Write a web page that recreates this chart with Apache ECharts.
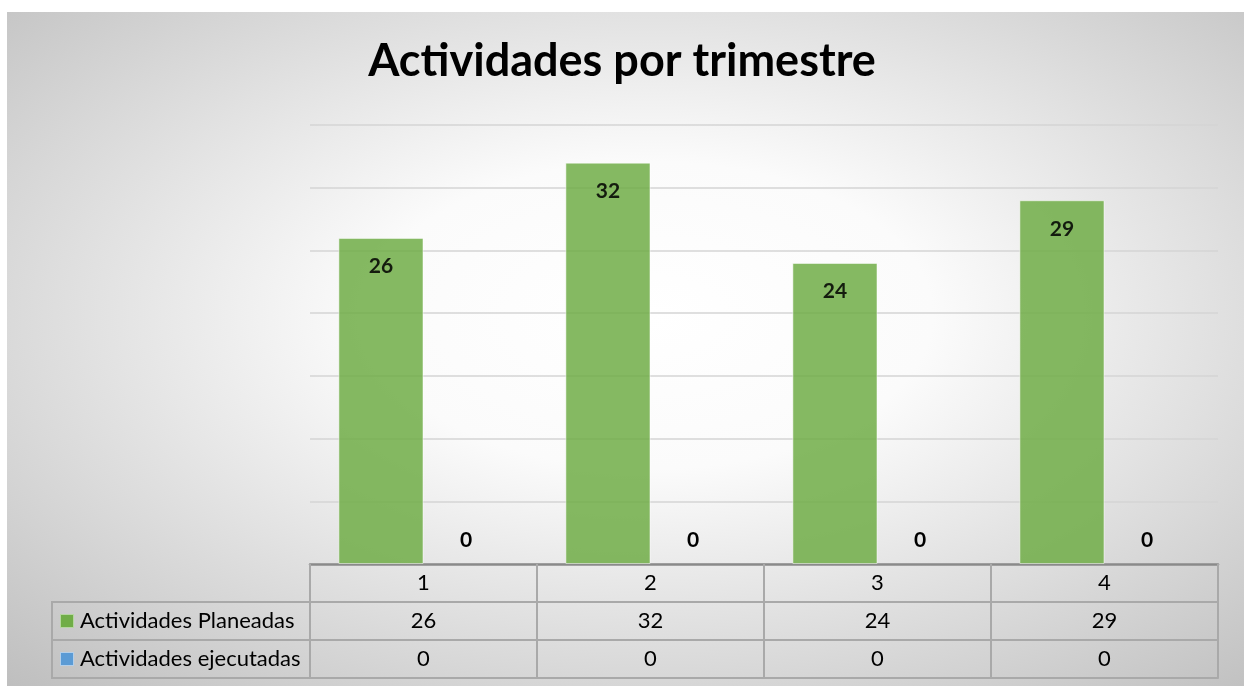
<!DOCTYPE html>
<html>
<head>
<meta charset="utf-8">
<script src="https://cdn.jsdelivr.net/npm/echarts@6/dist/echarts.min.js"></script>
<style>
  html, body { margin: 0; padding: 0; background: #fff; }
  #main { width: 1244px; height: 686px; }
</style>
</head>
<body>
<div id="main"></div>
<script>
var categories = ['1', '2', '3', '4'];
var seriesNames = ['Actividades Planeadas', 'Actividades ejecutadas'];
var planeadas = [26, 32, 24, 29];
var ejecutadas = [0, 0, 0, 0];
var colors = ['#70AD47', '#5B9BD5'];

var font = 'Lato, "Noto Sans", sans-serif';
var tableLine = { color: '#a9a9a9', width: 2 };
var cellText = { fontSize: 22, color: '#000', fontFamily: font };

var chart = echarts.init(document.getElementById('main'), null, { renderer: 'canvas' });

var option = {
  backgroundColor: '#fff',
  textStyle: { fontFamily: font },
  graphic: [{
    type: 'rect',
    z: -10,
    silent: true,
    x: 7, y: 12,
    scaleX: 1237 / 674,
    shape: { x: 0, y: 0, width: 674, height: 674 },
    style: {
      fill: {
        type: 'radial', x: 0.52, y: 0.45, r: 0.76,
        colorStops: [
          { offset: 0, color: '#ffffff' },
          { offset: 0.3, color: '#fbfbfb' },
          { offset: 1, color: '#bebebe' }
        ]
      }
    }
  }],
  title: {
    text: 'Actividades por trimestre',
    left: 'center',
    top: 34,
    textStyle: { fontFamily: font, fontSize: 45, fontWeight: 'bold', color: '#000' }
  },
  grid: [
    { left: 310, width: 908, top: 125, height: 439 },
    { left: 52, width: 258, top: 602, height: 76, show: true, borderColor: '#a9a9a9', borderWidth: 2 }
  ],
  xAxis: [
    {
      gridIndex: 0, type: 'category', data: categories, position: 'bottom',
      axisLine: { lineStyle: { color: '#8a8a8a', width: 2.5 } },
      axisTick: { show: true, interval: 0, length: 114, lineStyle: tableLine },
      axisLabel: Object.assign({ margin: 8 }, cellText)
    },
    {
      gridIndex: 0, type: 'category', data: categories, position: 'bottom', offset: 38,
      axisLine: { lineStyle: tableLine },
      axisTick: { show: false },
      axisLabel: Object.assign({ margin: 8,
        formatter: function (v, i) { return String(planeadas[i]); } }, cellText)
    },
    {
      gridIndex: 0, type: 'category', data: categories, position: 'bottom', offset: 76,
      axisLine: { lineStyle: tableLine },
      axisTick: { show: false },
      axisLabel: Object.assign({ margin: 8,
        formatter: function (v, i) { return String(ejecutadas[i]); } }, cellText)
    },
    {
      gridIndex: 0, type: 'category', data: categories, position: 'bottom', offset: 114,
      axisLine: { lineStyle: tableLine },
      axisTick: { show: false },
      axisLabel: { show: false }
    },
    { gridIndex: 1, type: 'value', show: false }
  ],
  yAxis: [
    {
      gridIndex: 0, type: 'value', min: 0, max: 35, interval: 5,
      axisLine: { show: false }, axisTick: { show: false }, axisLabel: { show: false },
      splitLine: { lineStyle: { color: '#d4d4d4', width: 1.5 } }
    },
    {
      gridIndex: 1, type: 'category', data: seriesNames, inverse: true,
      axisLine: { show: false }, axisTick: { show: false },
      splitLine: { show: true, lineStyle: tableLine },
      axisLabel: Object.assign({
        inside: true, margin: 9,
        formatter: function (v, i) { return '{m' + i + '|}{g|}' + v; },
        rich: {
          m0: { width: 12, height: 12, backgroundColor: colors[0], borderColor: '#b5d6a0', borderWidth: 1 },
          m1: { width: 12, height: 12, backgroundColor: colors[1], borderColor: '#b4cfe9', borderWidth: 1 },
          g: { width: 7 }
        }
      }, cellText)
    }
  ],
  series: [
    {
      name: seriesNames[0], type: 'bar', xAxisIndex: 0, yAxisIndex: 0,
      data: planeadas, barGap: '0%', barCategoryGap: '25%',
      itemStyle: { color: colors[0], opacity: 0.85, borderColor: 'rgba(255,255,255,0.6)', borderWidth: 1 },
      label: { show: true, position: 'insideTop', distance: 18, fontSize: 21, fontWeight: 'bold', color: '#000', fontFamily: font }
    },
    {
      name: seriesNames[1], type: 'bar', xAxisIndex: 0, yAxisIndex: 0,
      data: ejecutadas, barGap: '0%', barCategoryGap: '25%',
      itemStyle: { color: colors[1] },
      label: { show: true, position: 'top', distance: 13, fontSize: 21, fontWeight: 'bold', color: '#000', fontFamily: font }
    }
  ]
};

chart.setOption(option);
</script>
</body>
</html>
